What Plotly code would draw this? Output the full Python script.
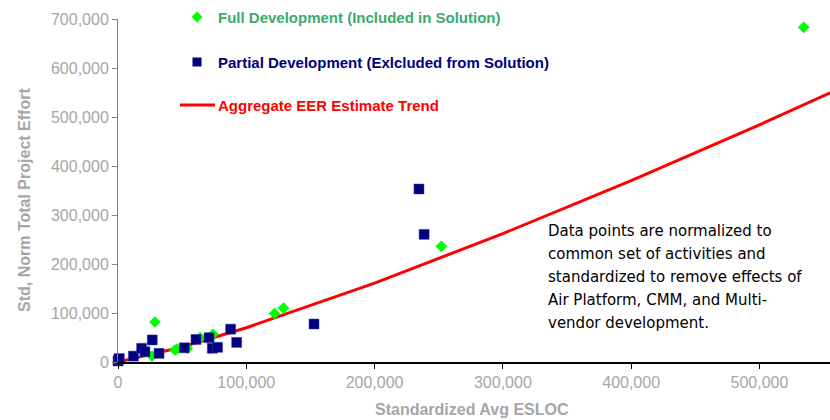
import plotly.graph_objects as go

# ---- data ----
full_x = [26500, 28800, 44400, 46000, 54000, 64000, 74000, 122000, 129000, 252000, 534500]
full_y = [12000, 81600, 24500, 26500, 28000, 49600, 56500, 99000, 110000, 236000, 683000]

partial_x = [0, 600, 1000, 12000, 18400, 21000, 26700, 32000, 51700, 60800, 71000, 73500, 77600,
             87800, 92500, 152800, 234600, 238600]
partial_y = [2000, 5000, 7000, 12000, 28000, 21000, 45000, 17700, 29000, 46000, 49600, 28000, 30000,
             67000, 40000, 77500, 353000, 260500]

trend_x = [0, 50000, 100000, 200000, 300000, 400000, 500000, 560000]
trend_y = [0, 30500, 70000, 161000, 262000, 370000, 484000, 555000]

x_ticks = [0, 100000, 200000, 300000, 400000, 500000]
y_ticks = [0, 100000, 200000, 300000, 400000, 500000, 600000, 700000]

note_lines = ["Data points are normalized to",
              "common set of activities and",
              "standardized to remove effects of",
              "Air Platform, CMM, and Multi-",
              "vendor development."]

legend_names = ["Full Development (Included in Solution)",
                "Partial Development (Exlcluded from Solution)",
                "Aggregate EER Estimate Trend"]

# ---- layout geometry (page pixels) ----
W, H = 830, 420
L, R, T, B = 118, 830, 19, 362  # plot area edges in page pixels
PW, PH = R - L, B - T


def px(xp):
    return (xp - L) / PW


def py(yp):
    return (B - yp) / PH


GREEN = "#00FF00"
NAVY = "#000080"
RED = "#FF0000"
GRAY = "#A6A6A6"

fig = go.Figure()
fig.add_trace(go.Scatter(x=trend_x, y=trend_y, mode="lines",
                         line=dict(color=RED, width=3), name=legend_names[2],
                         showlegend=False))
fig.add_trace(go.Scatter(x=full_x, y=full_y, mode="markers",
                         marker=dict(symbol="diamond", size=9, color=GREEN),
                         name=legend_names[0], showlegend=False, cliponaxis=False))
fig.add_trace(go.Scatter(x=partial_x, y=partial_y, mode="markers",
                         marker=dict(symbol="square", size=10, color=NAVY,
                                     line=dict(width=0.5, color="#3a3a9a")),
                         name=legend_names[1], showlegend=False, cliponaxis=False))

shapes = []
annotations = []
# legend: diamond
cx, cy, r = 197, 17, 5.5
shapes.append(dict(type="path", xref="paper", yref="paper",
                   path=f"M {px(cx - r)} {py(cy)} L {px(cx)} {py(cy - r)} L {px(cx + r)} {py(cy)} L {px(cx)} {py(cy + r)} Z",
                   fillcolor=GREEN, line=dict(width=0)))
# legend: square
cx, cy, s = 197, 62, 4.5
shapes.append(dict(type="rect", xref="paper", yref="paper",
                   x0=px(cx - s), x1=px(cx + s), y0=py(cy + s), y1=py(cy - s),
                   fillcolor=NAVY, line=dict(width=0)))
# legend: line
shapes.append(dict(type="line", xref="paper", yref="paper",
                   x0=px(180), x1=px(215), y0=py(105), y1=py(105),
                   line=dict(color=RED, width=3)))

leg_colors = ["#3CAA6E", NAVY, RED]
leg_y = [17, 62, 105]
for name, col, yy in zip(legend_names, leg_colors, leg_y):
    annotations.append(dict(xref="paper", yref="paper", x=px(216), y=py(yy),
                            xanchor="left", yanchor="middle", showarrow=False,
                            text=f"<b>{name}</b>",
                            font=dict(family="Liberation Sans, Arial", size=15, color=col)))

for i, line in enumerate(note_lines):
    annotations.append(dict(xref="paper", yref="paper", x=px(546), y=py(231 + 23 * i),
                            xanchor="left", yanchor="middle", showarrow=False, text=line,
                            font=dict(family="DejaVu Sans, Verdana", size=15, color="#000000")))

# axis titles
annotations.append(dict(xref="paper", yref="paper", x=px(472), y=py(409),
                        xanchor="center", yanchor="middle", showarrow=False,
                        text="<b>Standardized Avg ESLOC</b>",
                        font=dict(family="Liberation Sans, Arial", size=16, color=GRAY)))
annotations.append(dict(xref="paper", yref="paper", x=px(24), y=py(200),
                        xanchor="center", yanchor="middle", showarrow=False, textangle=-90,
                        text="<b>Std, Norm Total Project Effort</b>",
                        font=dict(family="Liberation Sans, Arial", size=16, color=GRAY)))

fig.update_layout(
    width=W, height=H,
    margin=dict(l=L, r=W - R, t=T, b=H - B),
    paper_bgcolor="white", plot_bgcolor="white",
    showlegend=False,
    shapes=shapes, annotations=annotations,
    font=dict(family="Liberation Sans, Arial", size=16, color=GRAY),
)
fig.update_xaxes(range=[0, 555000], tickvals=x_ticks, ticktext=[f"{v:,}" for v in x_ticks],
                 showgrid=False, zeroline=False, showline=True, linecolor="#000000", linewidth=1.5,
                 ticks="outside", ticklen=5, tickcolor="#000000",
                 tickfont=dict(family="Liberation Sans, Arial", size=16, color=GRAY))
fig.update_yaxes(range=[0, 700000], tickvals=y_ticks, ticktext=[f"{v:,}" for v in y_ticks],
                 showgrid=False, zeroline=False, showline=True, linecolor="#808080", linewidth=1,
                 ticks="outside", ticklen=5, tickcolor="#808080",
                 tickfont=dict(family="Liberation Sans, Arial", size=16, color=GRAY))

fig.write_html("out.html", config={"displayModeBar": False},
               post_script="document.body.style.margin='0';document.body.style.overflow='hidden';")
